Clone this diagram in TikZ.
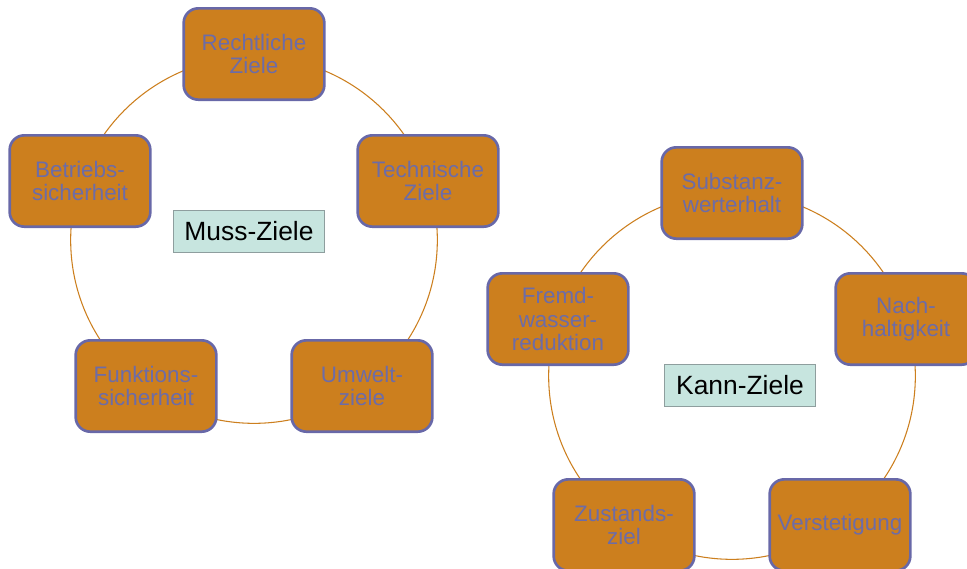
\documentclass[tikz,border=0pt]{standalone}
\usepackage{fontspec}
\setmainfont{Liberation Sans}
\definecolor{boxfill}{HTML}{CC7F1E}
\definecolor{boxline}{HTML}{6868A8}
\definecolor{boxtext}{HTML}{6C6CA8}
\definecolor{ringcol}{HTML}{CC7F1E}
\definecolor{labfill}{HTML}{C7E5DF}
\definecolor{labline}{HTML}{8E9E9E}
\begin{document}
\begin{tikzpicture}[x=0.75pt,y=-0.75pt,
  goal/.style={draw=boxline, line width=2pt, fill=boxfill, rounded corners=11pt,
    minimum width=105.5pt, minimum height=68.5pt, align=center, text=boxtext,
    font=\fontsize{16.8}{17.3}\selectfont, inner sep=1pt},
  ring/.style={draw=ringcol, line width=0.8pt},
  title/.style={draw=labline, line width=0.6pt, fill=labfill, minimum width=113pt,
    minimum height=31.5pt, font=\fontsize{19.8}{22}\selectfont, text=black}]
\useasboundingbox (0,0) rectangle (967,568);
\clip (0,0) rectangle (967,568);
% left cycle
\coordinate (c1) at (254,240);
\draw[ring] (c1) circle[radius=137.5pt];
\node[goal] (r) at (254,54) {Rechtliche\\Ziele};
\node[goal] (t) at (428,181) {Technische\\Ziele};
\node[goal] (u) at (362,386) {Umwelt-\\ziele};
\node[goal] (f) at (146,386) {Funktions-\\sicherheit};
\node[goal] (b) at (80,181) {Betriebs-\\sicherheit};
\node[title] (m) at (249,231) {Muss-Ziele};
% right cycle
\coordinate (c2) at (732,376);
\draw[ring] (c2) circle[radius=137.5pt];
\node[goal] (s) at (732,193) {Substanz-\\werterhalt};
\node[goal] (n) at (906,319) {Nach-\\haltigkeit};
\node[goal] (v) at (840,525) {Verstetigung};
\node[goal] (z) at (624,525) {Zustands-\\ziel};
\node[goal] (w) at (558,319) {Fremd-\\wasser-\\reduktion};
\node[title] (k) at (740,385) {Kann-Ziele};
\end{tikzpicture}
\end{document}
